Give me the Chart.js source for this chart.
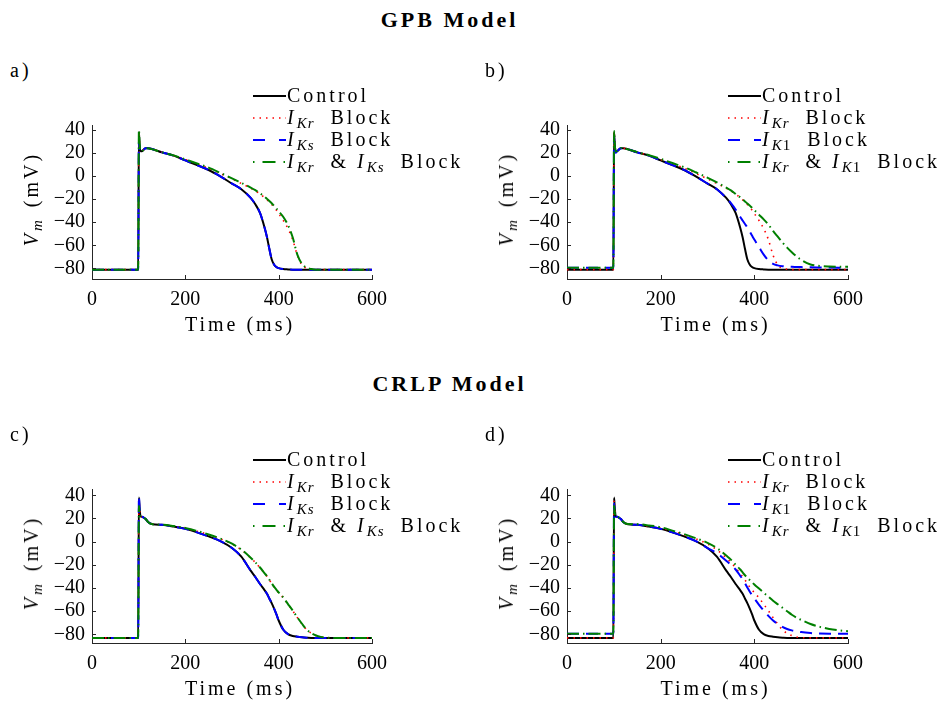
<!DOCTYPE html>
<html>
<head>
<meta charset="utf-8">
<script src="https://cdn.jsdelivr.net/npm/chart.js@4.4.1/dist/chart.umd.min.js"></script>
<style>
html,body{margin:0;padding:0;background:#fff;}
body{width:948px;height:702px;position:relative;overflow:hidden;font-family:"Liberation Serif","DejaVu Serif",serif;color:#000;}
canvas{position:absolute;}
.t{position:absolute;font-size:20px;line-height:22px;letter-spacing:3px;white-space:nowrap;}
.title{position:absolute;font-weight:bold;font-size:22px;line-height:24px;letter-spacing:3px;white-space:nowrap;transform:translateX(-50%);}
.xt{transform:translateX(-50%);}
.yt{transform:translate(-50%,-50%) rotate(-90deg);}
.sub{font-size:15px;position:relative;top:4px;letter-spacing:1px;line-height:0;margin-right:4px;}
.lg .sub{margin-right:8px;}
.sub i{font-style:italic;}
.sample{position:absolute;}
</style>
</head>
<body>
<div class="title" style="left:449.5px;top:8px;">GPB Model</div>
<div class="title" style="left:449.5px;top:372px;">CRLP Model</div>
<div id="root"></div>
<script>
// ---- data ----
const timeMs = [0, 99, 100.5, 102, 104, 107, 110, 115, 120, 130, 150, 175, 200, 225, 250, 275, 300, 320, 340, 350,
  360, 370, 375, 380, 385, 390, 395, 400, 410, 420, 430, 440, 450, 460, 470, 480, 490, 500, 520, 540, 560, 580, 600];
const xTickVals = [0, 200, 400, 600];
const yTickVals = [-80, -60, -40, -20, 0, 20, 40];

// GPB model (mV)
const gpbControl = [-81, -81, 38, 27, 21.5, 21.5, 22.5, 24, 24, 23.2, 20.4, 17.6, 13.5, 9.4, 5.2, -0.3, -6.6, -11.5, -19, -24.5,
  -32, -45, -53, -63, -72, -76.5, -78.7, -79.7, -80.5, -80.8, -81, -81, -81, -81, -81, -81, -81, -81, -81, -81, -81, -81, -81];
const gpbIKr = [-81, -81, 39, 27, 21.5, 21.5, 22.5, 24, 24, 23, 20.5, 17.8, 14.2, 10.5, 6.8, 2.2, -2.5, -6.5, -10.5, -12.8,
  -15.5, -18.8, -20.6, -22.5, -24.6, -27, -29.5, -32.5, -38.5, -45.5, -55, -68.5, -77, -79.8, -80.6, -81, -81, -81, -81, -81, -81, -81, -81];
const gpbIKs = [-81, -81, 30, 22, 20.5, 21.5, 22.5, 24, 24, 23.2, 20.4, 17.6, 13.5, 9.4, 5.2, -0.3, -6.6, -11.5, -19, -24.5,
  -32, -45, -53, -63, -72, -76.5, -78.7, -79.7, -80.5, -80.8, -81, -81, -81, -81, -81, -81, -81, -81, -81, -81, -81, -81, -81];
const gpbIKrIKs = [-81, -81, 40, 28, 21.5, 21.5, 22.5, 24.3, 24, 23, 20.5, 17.8, 14.3, 10.8, 7.2, 2.7, -2, -6, -10, -12.3,
  -15, -18, -19.8, -21.7, -23.6, -25.8, -28, -30.5, -35.5, -42.5, -53, -68, -76, -79.3, -80.5, -81, -81, -81, -81, -81, -81, -81, -81];
const gpbIK1 = [-79.4, -79.4, 34, 24, 20, 21.5, 22.5, 24, 24, 23.2, 20.4, 17.6, 13.5, 9.4, 5.2, -0.5, -6.5, -11.5, -19, -23.5,
  -29, -35.5, -38.5, -41.5, -44.5, -48, -51.5, -55, -61.5, -68, -73, -76, -77.3, -78, -78.4, -78.6, -78.7, -78.8, -79, -79.1, -79.2, -79.3, -79.4];
const gpbIKrIK1 = [-79.4, -79.4, 39, 27, 21.5, 21.5, 22.5, 24.3, 24, 23, 20.6, 18, 14.8, 11.2, 7.6, 3.2, -1.5, -5.5, -10, -12.5,
  -15.5, -18.5, -20.2, -22, -23.8, -25.5, -27.5, -29.5, -33.5, -37.5, -42, -47.5, -52.5, -57.5, -62, -66, -69.5, -72.5, -76.5, -77.8, -78.3, -78.5, -78.6];

// CRLP model (mV)
const crlpControl = [-83, -83, 38, 29, 22, 21.5, 21, 19.5, 17, 15, 14.5, 13, 11, 8, 4.5, 0.5, -5.5, -13, -25, -30.5,
  -36.5, -42, -45, -49, -53, -57.5, -62.5, -68, -76, -79.8, -81.3, -82, -82.5, -82.8, -83, -83, -83, -83, -83, -83, -83, -83, -83];
const crlpIKr = [-83, -83, 36, 28, 22, 21.5, 21, 19.5, 17, 15, 14.6, 13.3, 11.6, 9, 6, 2.5, -2, -7, -14, -18,
  -22.5, -27.5, -30, -33, -36, -39, -41.5, -44, -48.5, -54, -59.5, -65.5, -71, -76, -79, -81, -82.2, -82.7, -83, -83, -83, -83, -83];
const crlpIKs = [-83, -83, 39, 29, 22, 21.5, 21, 19.5, 17, 15, 14.5, 13, 11, 8, 4.5, 0.5, -5.5, -13, -25, -30.5,
  -36.5, -42, -45, -49, -53, -57.5, -62.5, -68, -76, -79.8, -81.3, -82, -82.5, -82.8, -83, -83, -83, -83, -83, -83, -83, -83, -83];
const crlpIKrIKs = [-83, -83, 31, 25, 21.5, 21.5, 21, 19.5, 17, 15, 14.6, 13.4, 11.8, 9.2, 6.2, 2.7, -1.8, -6.8, -13.8, -17.8,
  -22.3, -27.3, -29.8, -32.8, -35.8, -38.8, -41.3, -43.8, -48.3, -53.8, -59.3, -65.3, -70.8, -75.8, -78.9, -80.9, -82.1, -82.7, -83, -83, -83, -83, -83];
const crlpIK1 = [-79.5, -79.5, 33, 26, 21.5, 21.5, 21, 19.5, 17, 15, 14.5, 13, 11, 8, 4.5, 0.5, -5.5, -10, -16.5, -20,
  -24, -29.5, -32.5, -36, -39.5, -43, -46, -49, -54.5, -59.5, -64, -68, -71, -73.5, -75.3, -76.5, -77.3, -78, -78.8, -79.2, -79.4, -79.5, -79.5];
const crlpIKrIK1 = [-79.5, -79.5, 31, 25, 21.5, 21.5, 21, 19.5, 17, 15.2, 15, 14, 12.5, 9.5, 6.5, 3, -1, -5.5, -12, -15.5,
  -20, -24, -26.5, -29, -31, -33, -35, -37, -40.5, -44, -47.5, -51, -54, -57, -60, -63, -65.5, -67.5, -71, -73.5, -75.3, -76.5, -77.3];

const labelsKs = ['Control', '<i>I</i><span class="sub"><i>Kr</i></span> Block', '<i>I</i><span class="sub"><i>Ks</i></span> Block',
  '<i>I</i><span class="sub"><i>Kr</i></span> &amp; <i>I</i><span class="sub"><i>Ks</i></span> Block'];
const labelsK1 = ['Control', '<i>I</i><span class="sub"><i>Kr</i></span> Block', '<i>I</i><span class="sub"><i>K</i>1</span> Block',
  '<i>I</i><span class="sub"><i>Kr</i></span> &amp; <i>I</i><span class="sub"><i>K</i>1</span> Block'];

// ---- styles ----
const styles = [
  {color: '#000000', width: 2, dash: [], svgDash: '', order: 3},
  {color: '#ff0000', width: 1.6, dash: [1.5, 5], svgDash: '1.5 5', order: 2},
  {color: '#0000ff', width: 2, dash: [12, 7], svgDash: '12 14', order: 1},
  {color: '#008000', width: 2, dash: [12, 4, 1.5, 4], svgDash: '1.5 8 13 8', order: 0}
];

const FONT = "'Liberation Serif', 'DejaVu Serif', serif";

const inwardTicks = {
  id: 'inwardTicks',
  afterDraw(chart) {
    const {ctx, chartArea, scales} = chart;
    ctx.save();
    ctx.strokeStyle = '#262626';
    ctx.lineWidth = 1;
    ctx.beginPath();
    scales.x.ticks.forEach(t => {
      const x = Math.round(scales.x.getPixelForValue(t.value)) + 0.5;
      ctx.moveTo(x, chartArea.bottom); ctx.lineTo(x, chartArea.bottom - 4);
    });
    scales.y.ticks.forEach(t => {
      const y = Math.round(scales.y.getPixelForValue(t.value)) + 0.5;
      ctx.moveTo(chartArea.left, y); ctx.lineTo(chartArea.left + 4, y);
    });
    ctx.stroke();
    ctx.restore();
  }
};

const panels = [
  {tag: 'a)', left: 0, top: 106, padRight: 28, yMin: -89.1, yMax: 44.1, series: [gpbControl, gpbIKr, gpbIKs, gpbIKrIKs], labels: labelsKs},
  {tag: 'b)', left: 475, top: 106, padRight: 27, yMin: -89.1, yMax: 44.1, series: [gpbControl, gpbIKr, gpbIK1, gpbIKrIK1], labels: labelsK1},
  {tag: 'c)', left: 0, top: 470, padRight: 28, yMin: -87.4, yMax: 45.4, series: [crlpControl, crlpIKr, crlpIKs, crlpIKrIKs], labels: labelsKs},
  {tag: 'd)', left: 475, top: 470, padRight: 27, yMin: -87.4, yMax: 45.4, series: [crlpControl, crlpIKr, crlpIK1, crlpIKrIK1], labels: labelsK1}
];

const root = document.getElementById('root');
const W = 400, H = 213, YW = 92, XH = 40, PADTOP = 12;

panels.forEach(p => {
  const cv = document.createElement('canvas');
  cv.width = W; cv.height = H;
  cv.style.left = p.left + 'px'; cv.style.top = p.top + 'px';
  cv.style.width = W + 'px'; cv.style.height = H + 'px';
  root.appendChild(cv);

  const datasets = p.series.map((vals, i) => ({
    label: 'series' + i,
    data: timeMs.map((t, k) => ({x: t, y: vals[k]})),
    borderColor: styles[i].color,
    borderWidth: styles[i].width,
    borderDash: styles[i].dash,
    pointRadius: 0,
    fill: false,
    cubicInterpolationMode: 'monotone',
    order: styles[i].order
  }));

  new Chart(cv.getContext('2d'), {
    type: 'line',
    data: {datasets},
    options: {
      responsive: false, animation: false, events: [],
      layout: {padding: {top: PADTOP, right: p.padRight, bottom: 0, left: 0}},
      plugins: {legend: {display: false}, tooltip: {enabled: false}},
      scales: {
        x: {
          type: 'linear', min: 0, max: 600,
          grid: {display: false, drawTicks: false},
          border: {display: true, color: '#262626', width: 1},
          ticks: {font: {family: FONT, size: 20}, color: '#000', padding: 9, maxRotation: 0, autoSkip: false,
                  callback: v => String(v)},
          afterBuildTicks: s => { s.ticks = xTickVals.map(v => ({value: v})); },
          afterFit: s => { s.height = XH; }
        },
        y: {
          type: 'linear', min: p.yMin, max: p.yMax,
          grid: {display: false, drawTicks: false},
          border: {display: true, color: '#262626', width: 1},
          ticks: {font: {family: FONT, size: 20}, color: '#000', padding: 7, autoSkip: false,
                  callback: v => String(v).replace('-', '\u2212')},
          afterBuildTicks: s => { s.ticks = yTickVals.map(v => ({value: v})); },
          afterFit: s => { s.width = YW; }
        }
      }
    },
    plugins: [inwardTicks]
  });

  const plotLeft = p.left + YW;
  const plotRight = p.left + W - p.padRight;
  const plotTop = p.top + PADTOP;
  const plotBottom = p.top + H - XH;
  const dy = p.top - 106;

  const tag = document.createElement('div');
  tag.className = 't';
  tag.textContent = p.tag;
  tag.style.left = (p.left === 0 ? 10 : 485) + 'px';
  tag.style.top = (58.75 + dy) + 'px';
  root.appendChild(tag);

  const xt = document.createElement('div');
  xt.className = 't xt';
  xt.textContent = 'Time (ms)';
  xt.style.left = ((plotLeft + plotRight) / 2 + 8) + 'px';
  xt.style.top = (313.25 + dy) + 'px';
  root.appendChild(xt);

  const yt = document.createElement('div');
  yt.className = 't yt';
  yt.innerHTML = '<i>V</i><span class="sub"><i>m</i></span> (mV)';
  yt.style.left = (p.left + 31) + 'px';
  yt.style.top = ((plotTop + plotBottom) / 2) + 'px';
  root.appendChild(yt);

  const sx = p.left + 253, tx = p.left + 287;
  p.labels.forEach((html, i) => {
    const rt = 84 + 22 * i + dy;
    const sv = document.createElement('div');
    sv.className = 'sample';
    sv.style.left = sx + 'px'; sv.style.top = rt + 'px';
    sv.innerHTML = '<svg width="33" height="22"><line x1="0" y1="12" x2="33" y2="12" stroke="' + styles[i].color +
      '" stroke-width="' + styles[i].width + '"' + (styles[i].svgDash ? ' stroke-dasharray="' + styles[i].svgDash + '"' : '') + '/></svg>';
    root.appendChild(sv);
    const lt = document.createElement('div');
    lt.className = 't lg';
    lt.innerHTML = html;
    lt.style.left = tx + 'px'; lt.style.top = rt + 'px';
    root.appendChild(lt);
  });
});
</script>
</body>
</html>
